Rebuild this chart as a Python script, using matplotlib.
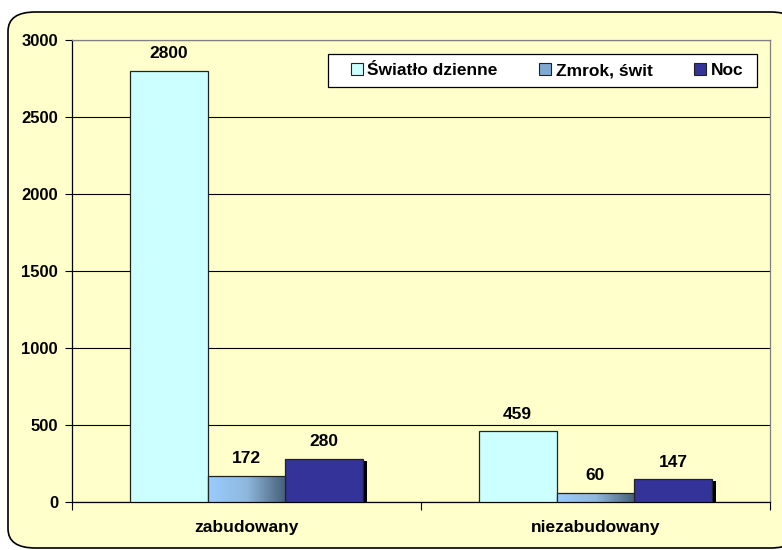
import numpy as np
import matplotlib.pyplot as plt
from matplotlib.patches import FancyBboxPatch, Patch, Rectangle
from matplotlib.colors import LinearSegmentedColormap

categories = ['zabudowany', 'niezabudowany']
series = ['Światło dzienne', 'Zmrok, świt', 'Noc']
swiatlo = [2800, 459]
zmrok = [172, 60]
noc = [280, 147]
yticks = [0, 500, 1000, 1500, 2000, 2500, 3000]

plt.rcParams['font.family'] = ['Liberation Sans', 'DejaVu Sans']
plt.rcParams['font.weight'] = 'bold'

bg = '#FFFFCC'
fig = plt.figure(figsize=(7.82, 5.5), dpi=100)
fig.patch.set_facecolor('white')

# rounded frame around everything
frame = FancyBboxPatch((8 / 782, 1 - 548 / 550), 790 / 782, 536 / 550,
                       boxstyle='round,pad=0,rounding_size=0.035',
                       transform=fig.transFigure, facecolor=bg,
                       edgecolor='black', linewidth=1.2, zorder=-10)
fig.patches.append(frame)

ax = fig.add_axes([72 / 782, 48 / 550, 698 / 782, 462 / 550])
ax.set_facecolor(bg)

x = np.arange(len(categories))
w = 0.223

b1 = ax.bar(x - w, swiatlo, w, color='#CCFFFF', edgecolor='#222222', linewidth=0.9, zorder=3)

# shadow behind Noc bars
dx = 0.012
ax.bar(x + w + dx, [v - 12 for v in noc], w, color='black', zorder=2.5)
b3 = ax.bar(x + w, noc, w, color='#333399', edgecolor='#222222', linewidth=0.9, zorder=3)

# gradient bars for Zmrok
cmap = LinearSegmentedColormap.from_list('zm', ['#99CCFF', '#8FB8DD', '#455E78'])
grad = np.linspace(0, 1, 256).reshape(1, -1)
b2 = ax.bar(x, zmrok, w, facecolor='none', edgecolor='#222222', linewidth=0.9, zorder=4)
for r in b2:
    x0, y0 = r.get_x(), r.get_y()
    im = ax.imshow(grad, cmap=cmap, aspect='auto', zorder=3,
                   extent=(x0, x0 + r.get_width(), y0, y0 + r.get_height()))
    im.set_clip_path(r)
ax.set_xlim(-0.5, 1.5)
ax.set_ylim(0, 3000)

for bars, vals in [(b1, swiatlo), (b2, zmrok), (b3, noc)]:
    for r, v in zip(bars, vals):
        ax.annotate(str(v), (r.get_x() + r.get_width() / 2, v),
                    xytext=(0, 7), textcoords='offset points',
                    ha='center', va='bottom', fontsize=12.5, fontweight='bold')

ax.set_yticks(yticks)
ax.set_yticklabels([str(t) for t in yticks])
ax.yaxis.grid(True, color='black', linewidth=0.8, zorder=0)
ax.set_axisbelow(True)
ax.tick_params(axis='y', direction='out', length=5, width=0.8, labelsize=12, pad=5)

ax.set_xticks(x)
ax.set_xticklabels(categories)
ax.set_xticks([-0.5, 0.5, 1.5], minor=True)
ax.tick_params(axis='x', which='major', length=0, labelsize=12.5, pad=13)
ax.tick_params(axis='x', which='minor', direction='out', length=6, width=0.8)

for s in ['left', 'bottom']:
    ax.spines[s].set_color('black')
    ax.spines[s].set_linewidth(0.9)
for s in ['top', 'right']:
    ax.spines[s].set_color('#808080')
    ax.spines[s].set_linewidth(0.9)

# legend box drawn separately so the entries can sit centred inside it
ax.add_patch(Rectangle((0.367, 0.898), 0.614, 0.072, transform=ax.transAxes,
                       facecolor='white', edgecolor='black', linewidth=0.9,
                       zorder=9, clip_on=False))
handles = [Patch(facecolor='#CCFFFF', edgecolor='#222222', linewidth=0.8),
           Patch(facecolor='#7FA8D2', edgecolor='#222222', linewidth=0.8),
           Patch(facecolor='#333399', edgecolor='#222222', linewidth=0.8)]
leg = ax.legend(handles, series, ncol=3, loc='center',
                bbox_to_anchor=(0.6805, 0.934), frameon=False,
                borderaxespad=0, borderpad=0,
                handlelength=0.7, handleheight=0.7, handletextpad=0.25,
                columnspacing=2.4, prop={'weight': 'bold', 'size': 12.5})
leg.set_zorder(10)

fig.savefig('out.png', dpi=100, facecolor=fig.get_facecolor())
